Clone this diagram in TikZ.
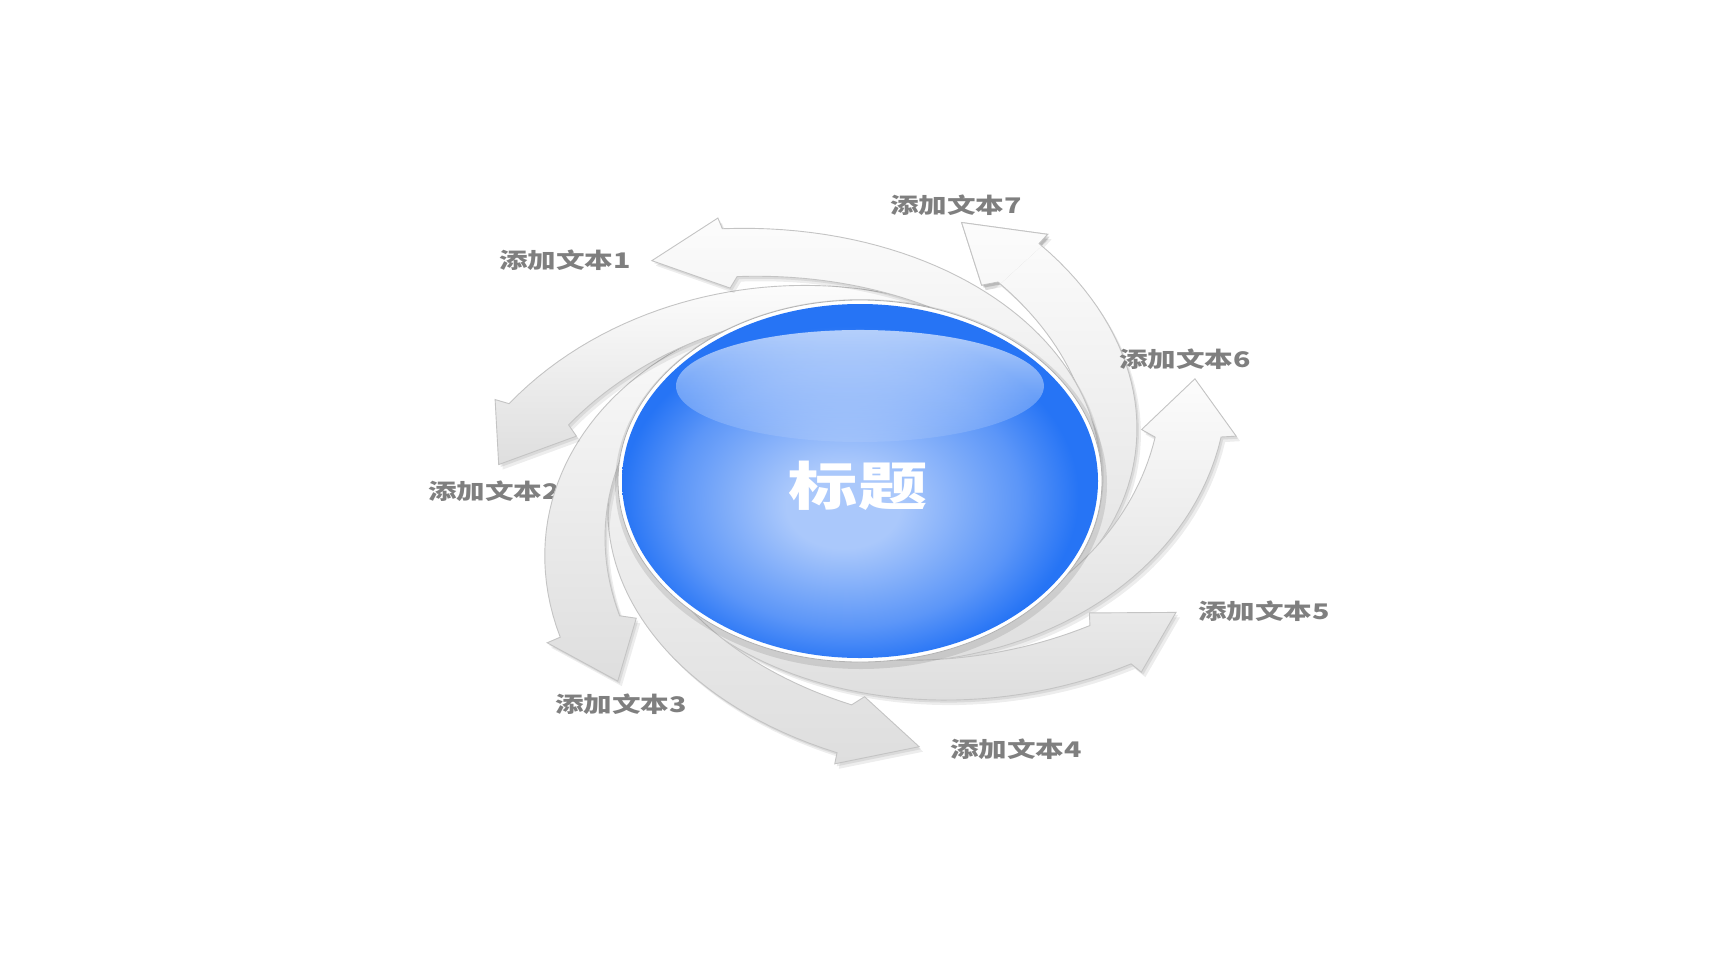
\documentclass[tikz,border=0pt]{standalone}
\usepackage{fontspec}
\newfontfamily\cjk{Noto Sans CJK SC}
\usetikzlibrary{fadings}
\definecolor{ballout}{RGB}{38,116,245}
\definecolor{ballmid}{RGB}{92,150,248}
\definecolor{ballin}{RGB}{170,200,251}
\definecolor{arrtop}{RGB}{252,252,252}
\definecolor{arrbot}{RGB}{222,222,222}
\definecolor{arredge}{RGB}{196,196,196}
\definecolor{labelgray}{RGB}{127,127,127}
\pgfdeclareradialshading{ballshade}{\pgfpoint{-2bp}{-4bp}}{color(0bp)=(ballin); color(6bp)=(ballin); color(18bp)=(ballmid); color(24bp)=(ballout); color(50bp)=(ballout)}
\tikzfading[name=glossfade, top color=transparent!35, bottom color=transparent!92]
% generic swirl arrow, tip at local angle 0 (the y axis is mirrored by the scope, so rotate by minus the wanted angle)
\newcommand\swirlpath{(-13:366) -- (-13.2:381) -- (0:362) -- (-8.5:290) -- (-11:301) -- plot[domain=11:99,samples=45] ({-\x}:{228+73*((100-\x)/89)^2.5}) -- (-100:228) arc[start angle=-100,end angle=-158,radius=228] -- (-158:234) -- plot[domain=149:13,samples=60] ({-\x}:{237+129*((150-\x)/137)^2.35}) -- cycle}
\newcommand\swirl[1]{%
  \begin{scope}[shift={(864,486)}, yscale=-0.744, rotate=#1]
    \fill[black, opacity=0.07] \swirlpath;
  \end{scope}
  \begin{scope}[shift={(862,483.5)}, yscale=-0.744, rotate=#1]
    \fill[black, opacity=0.08] \swirlpath;
  \end{scope}
  \begin{scope}[shift={(860,481)}, yscale=-0.744, rotate=#1]
    \path[arrowfill] \swirlpath;
  \end{scope}}
\begin{document}
\begin{tikzpicture}[x=1pt, y=-1pt,
  arrowfill/.style={draw=arredge, line width=0.9pt, top color=arrtop, bottom color=arrbot},
  lbl/.style={text=labelgray, font=\cjk\bfseries\fontsize{21.5}{21.5}\selectfont, inner sep=0pt},
  ttl/.style={text=white, font=\cjk\bfseries\fontsize{52}{52}\selectfont, inner sep=0pt}]
\useasboundingbox[fill=white] (0,0) rectangle (1720,966);

% label 2 lies partly under arrow 3
\node[lbl] (l2) at (494,491) {\scalebox{1.33}[1]{添加文本2}};

% swirl arrows (7, 6, ..., 1), then the head of arrow 7 again on top of arrow 1
\swirl{-73.7}
\swirl{-22.3}
\swirl{-330.8}
\swirl{-279.4}
\swirl{-228.0}
\swirl{-176.5}
\swirl{-125.1}
\begin{scope}
  \clip[shift={(860,481)}, yscale=-0.744, rotate=-73.7] (-11:285) -- (-13.8:372) -- (-13.8:400) -- (3:400) -- (3:280) -- cycle;
  \swirl{-73.7}
\end{scope}

% other labels
\node[lbl] (l1) at (565,260) {\scalebox{1.33}[1]{添加文本1}};
\node[lbl] (l3) at (621,704) {\scalebox{1.33}[1]{添加文本3}};
\node[lbl] (l4) at (1016,749) {\scalebox{1.33}[1]{添加文本4}};
\node[lbl] (l5) at (1264,611) {\scalebox{1.33}[1]{添加文本5}};
\node[lbl] (l6) at (1185,359) {\scalebox{1.33}[1]{添加文本6}};
\node[lbl] (l7) at (956,205) {\scalebox{1.33}[1]{添加文本7}};

% central ball
\fill[black, opacity=0.10] (861,484) ellipse [x radius=246, y radius=185];
\filldraw[fill=white, draw=black!30, line width=0.8pt] (860,481) ellipse [x radius=242, y radius=181];
\shade[shading=ballshade] (860,481) ellipse [x radius=238, y radius=177];
\fill[white, path fading=glossfade] (860,386) ellipse [x radius=184, y radius=56];
\node[ttl] (title) at (858,486) {\scalebox{1.33}[1]{标题}};
\end{tikzpicture}
\end{document}
